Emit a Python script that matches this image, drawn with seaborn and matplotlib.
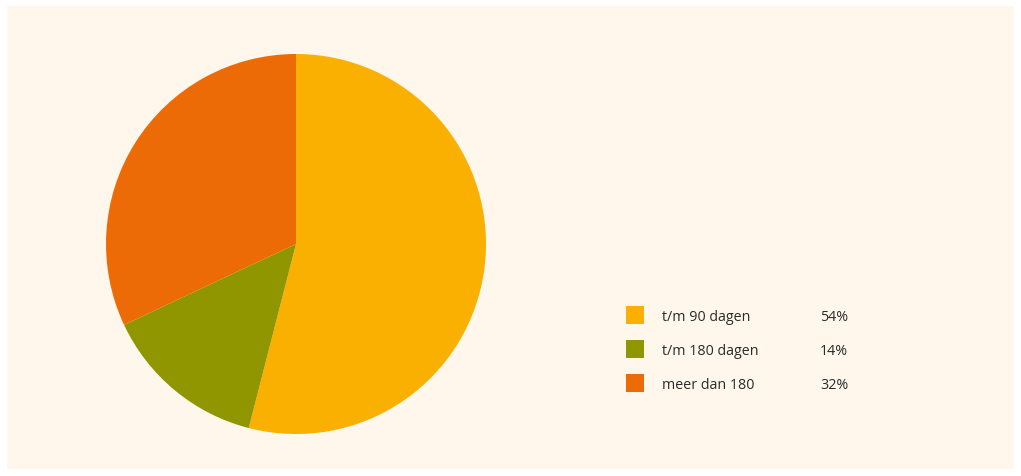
import matplotlib
matplotlib.use("Agg")
import matplotlib.pyplot as plt
import seaborn as sns
from matplotlib.patches import Rectangle

# Data
labels = ["t/m 90 dagen", "t/m 180 dagen", "meer dan 180"]
shares = [54, 14, 32]
colors = ["#FAB000", "#8F9600", "#EC6B06"]

sns.set_style("white")
plt.rcParams["font.family"] = ["Open Sans", "DejaVu Sans"]

W, H = 1021, 477
fig = plt.figure(figsize=(W / 100, H / 100), dpi=100, facecolor="white")

# cream panel
fig.add_artist(Rectangle((7 / W, 7 / H), 1007 / W, 463 / H,
                         transform=fig.transFigure, facecolor="#FFF6EC",
                         edgecolor="none", zorder=0))

# pie
cx, cy, r = 296, 245, 190
ax = fig.add_axes([(cx - r) / W, (H - cy - r) / H, 2 * r / W, 2 * r / H])
ax.pie(shares, colors=colors, startangle=90, counterclock=False,
       wedgeprops={"linewidth": 0})
ax.set_xlim(-1, 1)
ax.set_ylim(-1, 1)
ax.axis("off")

# legend
for i, (lab, val, col) in enumerate(zip(labels, shares, colors)):
    yc = 316 + 34 * i
    fig.add_artist(Rectangle((626 / W, (H - yc - 9) / H), 18 / W, 18 / H,
                             transform=fig.transFigure, facecolor=col,
                             edgecolor="none"))
    fig.text(662 / W, (H - yc - 1.5) / H, lab, fontsize=10.3, color="#2b2b2b",
             va="center", ha="left")
    fig.text(820 / W, (H - yc - 1.5) / H, f"{val}%", fontsize=10.3,
             color="#2b2b2b", va="center", ha="left")

fig.savefig("out.png", dpi=100, facecolor="white")
